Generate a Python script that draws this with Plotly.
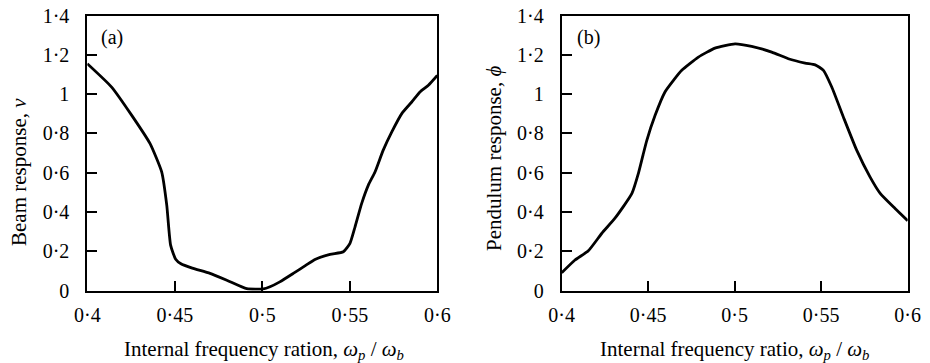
import plotly.graph_objects as go

# Panel (a): beam response
beam_x = [0.400, 0.4139, 0.4254, 0.4358, 0.4425, 0.4454, 0.4476, 0.4505, 0.4535,
          0.4600, 0.4701, 0.4800, 0.4911, 0.5006, 0.5044, 0.5100, 0.5177, 0.5250,
          0.5301, 0.5387, 0.5463, 0.5501, 0.5530, 0.5568, 0.5606, 0.5644, 0.5691,
          0.5740, 0.5797, 0.5854, 0.5901, 0.5949, 0.6000]
beam_y = [1.155, 1.036, 0.892, 0.749, 0.604, 0.435, 0.232, 0.160, 0.137,
          0.115, 0.088, 0.052, 0.010, 0.009, 0.020, 0.045, 0.088, 0.130,
          0.159, 0.185, 0.198, 0.241, 0.325, 0.444, 0.537, 0.604, 0.715,
          0.808, 0.901, 0.960, 1.011, 1.045, 1.095]

# Panel (b): pendulum response
pend_x = [0.400, 0.4077, 0.4154, 0.4231, 0.4309, 0.4406, 0.4443, 0.4470, 0.4492,
          0.4540, 0.4597, 0.4646, 0.4694, 0.4790, 0.4886, 0.5002, 0.5098, 0.5214,
          0.5310, 0.5407, 0.5465, 0.5513, 0.5561, 0.5628, 0.5705, 0.5782, 0.5841,
          0.5927, 0.6000]
pend_y = [0.091, 0.156, 0.203, 0.291, 0.370, 0.495, 0.596, 0.690, 0.765,
          0.892, 1.011, 1.070, 1.121, 1.188, 1.234, 1.256, 1.243, 1.214,
          1.180, 1.158, 1.149, 1.121, 1.036, 0.884, 0.715, 0.579, 0.495,
          0.418, 0.356]

x_ticks = [0.4, 0.45, 0.5, 0.55, 0.6]
x_tick_text = ["0·4", "0·45", "0·5", "0·55", "0·6"]
y_ticks = [0, 0.2, 0.4, 0.6, 0.8, 1.0, 1.2, 1.4]
y_tick_text = ["0", "0·2", "0·4", "0·6", "0·8", "1", "1·2", "1·4"]

FONT = "Liberation Serif, Times New Roman, serif"
W, H = 930, 363
FS = 20
FT = 21

fig = go.Figure()
fig.add_trace(go.Scatter(x=beam_x, y=beam_y, mode="lines", xaxis="x", yaxis="y",
                         line=dict(color="black", width=2.8, shape="spline", smoothing=0.5),
                         showlegend=False))
fig.add_trace(go.Scatter(x=pend_x, y=pend_y, mode="lines", xaxis="x2", yaxis="y2",
                         line=dict(color="black", width=2.8, shape="spline", smoothing=0.5),
                         showlegend=False))

ydom = [1 - 290.7 / H, 1 - 15.5 / H]
common_x = dict(range=[0.4, 0.6], tickvals=x_ticks, ticktext=x_tick_text,
                showline=True, linecolor="black", linewidth=2, mirror=True,
                ticks="inside", ticklen=10, tickwidth=1.5, tickcolor="black",
                showgrid=False, zeroline=False, ticklabelstandoff=5, automargin=False,
                tickfont=dict(family=FONT, size=FS, color="black"))
common_y = dict(range=[0, 1.4], tickvals=y_ticks, ticktext=y_tick_text,
                showline=True, linecolor="black", linewidth=2, mirror=True,
                ticks="inside", ticklen=10, tickwidth=1.5, tickcolor="black",
                showgrid=False, zeroline=False, ticklabelstandoff=12, automargin=False,
                tickfont=dict(family=FONT, size=FS, color="black"))

fig.update_layout(
    width=W, height=H,
    margin=dict(l=0, r=0, t=0, b=0),
    paper_bgcolor="white", plot_bgcolor="white",
    font=dict(family=FONT, color="black"),
    xaxis=dict(domain=[87.3 / W, 437.3 / W], anchor="y", **common_x),
    yaxis=dict(domain=ydom, anchor="x", **common_y),
    xaxis2=dict(domain=[561.7 / W, 907.7 / W], anchor="y2", **common_x),
    yaxis2=dict(domain=ydom, anchor="x2", **common_y),
)

annots = [
    dict(text="(a)", x=112 / W, y=1 - 38 / H, size=FS),
    dict(text="(b)", x=588 / W, y=1 - 38 / H, size=FS),
    dict(text="Internal frequency ration, <i>ω<sub>p</sub></i> / <i>ω<sub>b</sub></i>",
         x=264 / W, y=1 - 350 / H, size=FT),
    dict(text="Internal frequency ratio, <i>ω<sub>p</sub></i> / <i>ω<sub>b</sub></i>",
         x=734 / W, y=1 - 350 / H, size=FT),
    dict(text="Beam response, <i>ν</i>", x=19 / W, y=1 - 172 / H, textangle=-90, size=FT),
    dict(text="Pendulum response, <i>ϕ</i>", x=494 / W, y=1 - 158 / H, textangle=-90, size=FT),
]
for a in annots:
    size = a.pop("size")
    fig.add_annotation(xref="paper", yref="paper", showarrow=False,
                       xanchor="center", yanchor="middle",
                       font=dict(family=FONT, size=size, color="black"), **a)

fig.write_html("out.html")
